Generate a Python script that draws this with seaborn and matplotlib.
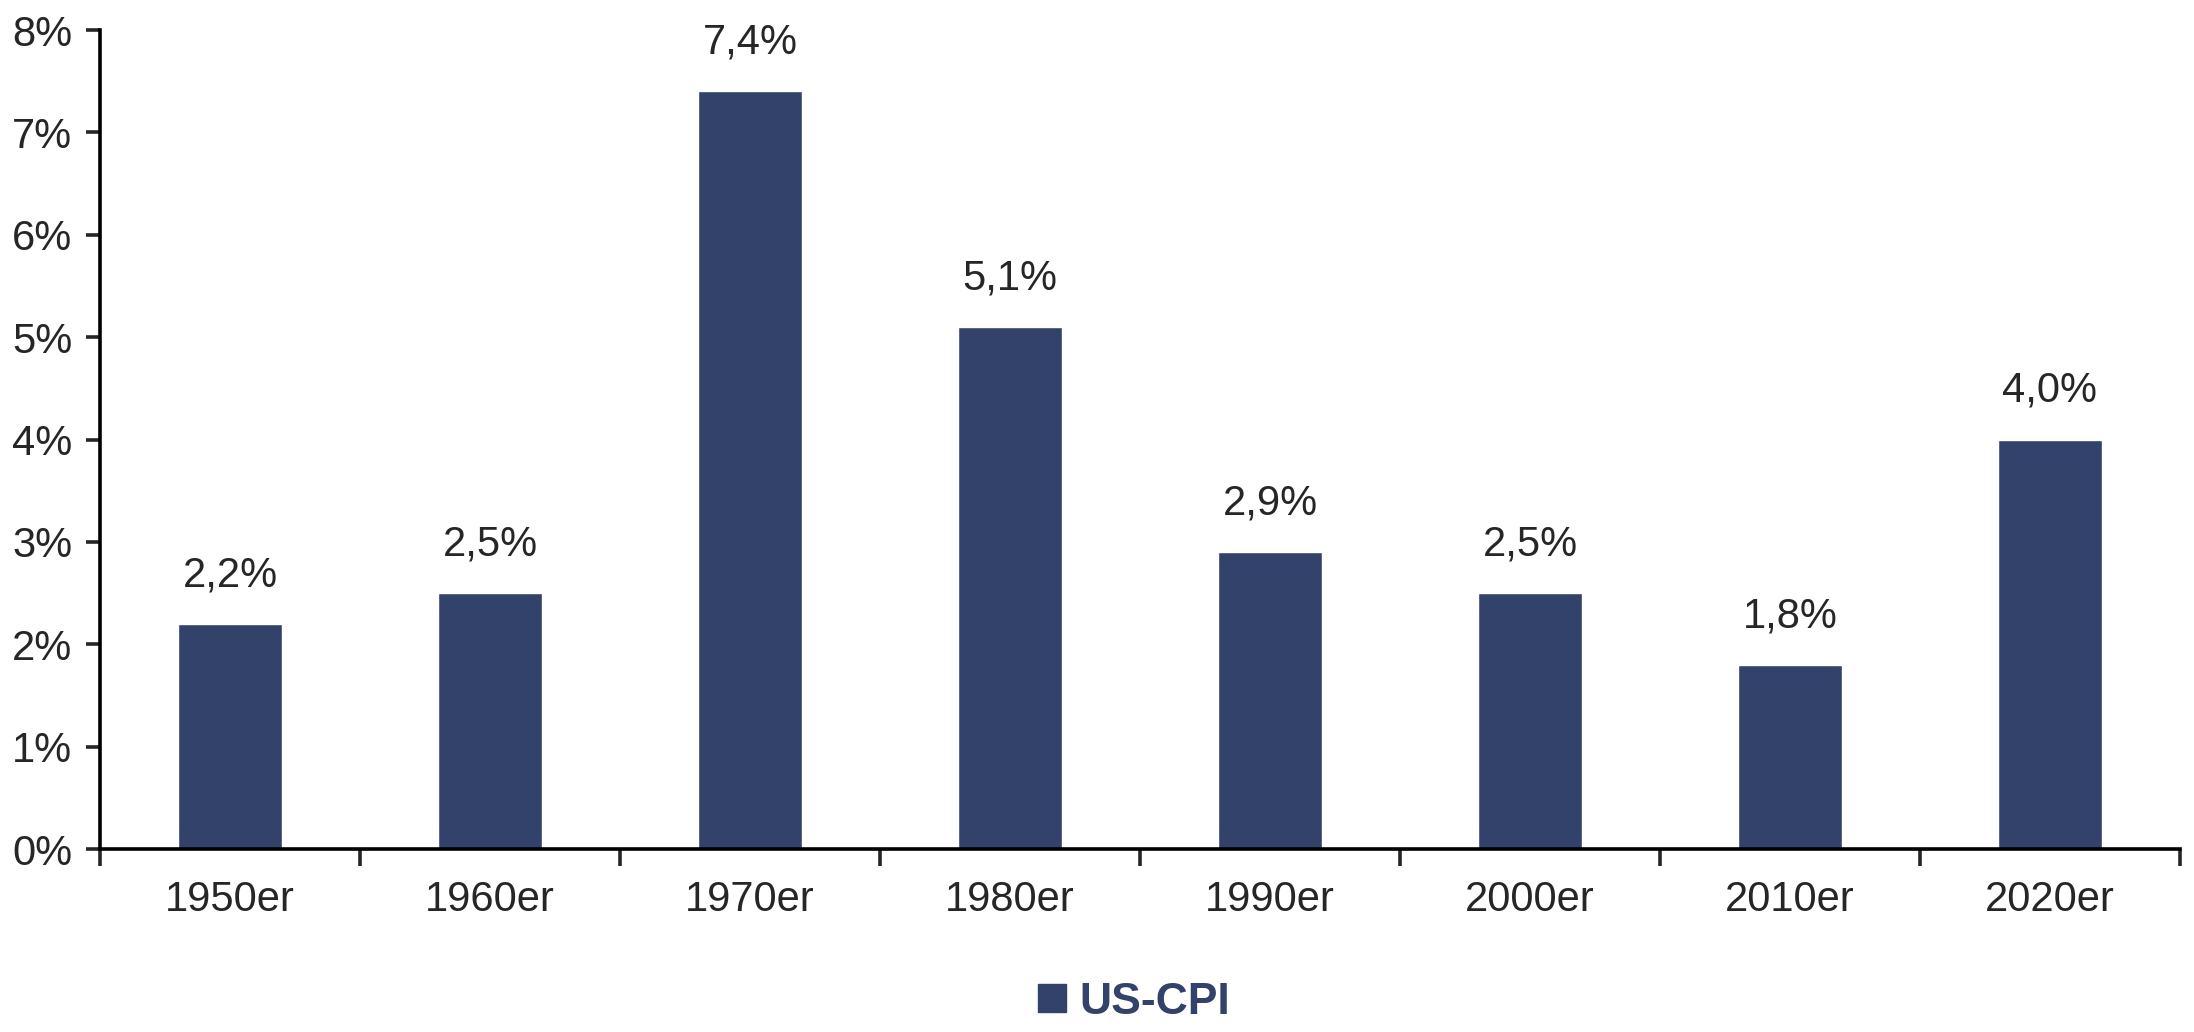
import seaborn as sns
import matplotlib.pyplot as plt
import pandas as pd
from matplotlib.lines import Line2D
from matplotlib.ticker import FixedLocator, FuncFormatter

decades = ["1950er", "1960er", "1970er", "1980er", "1990er", "2000er", "2010er", "2020er"]
cpi = [2.2, 2.5, 7.4, 5.1, 2.9, 2.5, 1.8, 4.0]
series_name = "US-CPI"

bar_color = "#33426A"

df = pd.DataFrame({"decade": decades, "cpi": cpi})

sns.set_style("white")
plt.rcParams["font.family"] = ["Liberation Sans", "DejaVu Sans"]

fig = plt.figure(figsize=(21.94, 10.32), dpi=100)
ax = fig.add_axes([0.0456, 0.1773, 0.948, 0.7936])

sns.barplot(data=df, x="decade", y="cpi", color=bar_color, width=0.4,
            saturation=1, ax=ax)

# value labels above bars
for i, v in enumerate(cpi):
    ax.text(i, v + 0.28, f"{v:.1f}%".replace(".", ","), ha="center",
            va="bottom", fontsize=30)

ax.set_ylim(0, 8)
ax.set_xlim(-0.5, len(decades) - 0.5)
ax.set_yticks(range(0, 9))
ax.yaxis.set_major_formatter(FuncFormatter(lambda v, p: f"{int(v)}%"))
ax.tick_params(axis="y", labelsize=30, left=True, length=10, width=2.6,
               direction="out", pad=10)
ax.tick_params(axis="x", which="major", labelsize=30, length=0, pad=22)
ax.xaxis.set_minor_locator(FixedLocator([i - 0.5 for i in range(len(decades) + 1)]))
ax.tick_params(axis="x", which="minor", bottom=True, length=12, width=2.6,
               direction="out")
ax.set_xlabel("")
ax.set_ylabel("")

for s in ["top", "right"]:
    ax.spines[s].set_visible(False)
for s in ["left", "bottom"]:
    ax.spines[s].set_linewidth(2.6)
    ax.spines[s].set_color("black")

handle = Line2D([], [], marker="s", linestyle="none", markersize=20,
                color=bar_color)
leg = fig.legend([handle], [series_name], loc="center",
                 bbox_to_anchor=(1130 / 2194, 1 - 1002 / 1032), frameon=False,
                 handletextpad=0.1, handlelength=1.0,
                 prop={"size": 32, "weight": "bold"})
for t in leg.get_texts():
    t.set_color(bar_color)

fig.savefig("out.png", dpi=100)
